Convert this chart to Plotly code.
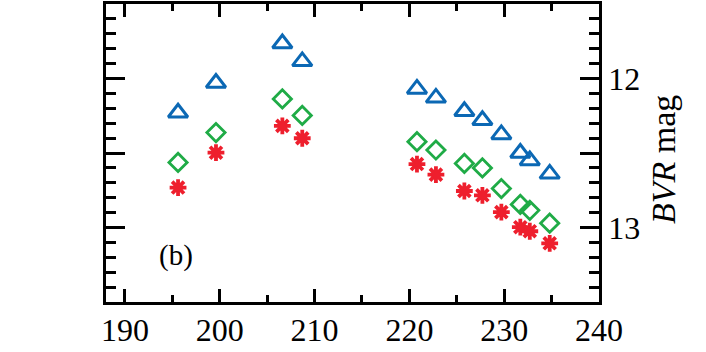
import plotly.graph_objects as go

# Data
days = [195.6, 199.6, 206.6, 208.7, 220.8, 222.8, 225.8, 227.7, 229.7, 231.7, 232.7, 234.8]
mag_b = [12.23, 12.03, 11.765, 11.885, 12.07, 12.13, 12.22, 12.28, 12.375, 12.50, 12.55, 12.64]
mag_v = [12.563, 12.363, 12.137, 12.248, 12.424, 12.48, 12.57, 12.60, 12.739, 12.845, 12.885, 12.971]
mag_r = [12.732, 12.498, 12.318, 12.401, 12.574, 12.645, 12.755, 12.784, 12.897, 12.998, 13.025, 13.106]

x_range = [188, 240]
x_ticks = [190, 200, 210, 220, 230, 240]
y_range = [13.5, 11.5]
y_tickvals = [11.5, 12.0, 12.5, 13.0, 13.5]
y_ticktext = ["", "12", "", "13", ""]

FONT = "Liberation Serif"
fig = go.Figure()
fig.add_trace(go.Scatter(x=days, y=mag_b, mode="markers",
                         marker=dict(symbol="triangle-up-open", size=17, color="#0b68b4",
                                     line=dict(width=3, color="#0b68b4"))))
fig.add_trace(go.Scatter(x=days, y=mag_v, mode="markers",
                         marker=dict(symbol="diamond-open", size=14, color="#1fab46",
                                     line=dict(width=2.8, color="#1fab46"))))
fig.add_trace(go.Scatter(x=days, y=mag_r, mode="markers",
                         marker=dict(symbol="asterisk-open", size=14, color="#ee1f2d",
                                     line=dict(width=3.8, color="#ee1f2d"))))

fig.update_layout(
    width=706, height=352,
    margin=dict(l=106, r=107, t=4, b=50),
    paper_bgcolor="white", plot_bgcolor="white",
    showlegend=False,
    font=dict(family=FONT, size=32, color="black"),
    xaxis=dict(range=x_range, tickvals=x_ticks, ticks="inside", ticklen=13, tickwidth=2.5,
               tickcolor="black", showline=True, linewidth=2.5, linecolor="black",
               mirror="allticks", showgrid=False, zeroline=False, automargin=False,
               tickfont=dict(family=FONT, size=32), ticklabelstandoff=-2,
               minor=dict(dtick=5, ticks="inside", ticklen=7, tickwidth=2.5, tickcolor="black",
                          showgrid=False)),
    yaxis=dict(range=y_range, tickvals=y_tickvals, ticktext=y_ticktext, side="right",
               ticks="inside", ticklen=19, tickwidth=2.5, tickcolor="black",
               showline=True, linewidth=2.5, linecolor="black", mirror="allticks",
               showgrid=False, zeroline=False, automargin=False,
               tickfont=dict(family=FONT, size=32),
               minor=dict(dtick=0.1, ticks="inside", ticklen=10, tickwidth=2.5,
                          tickcolor="black", showgrid=False)),
)

fig.add_annotation(text="<i>BVR</i> mag", xref="paper", yref="paper",
                   x=(663 - 106) / 493, y=(302 - 160) / 298, textangle=-90,
                   showarrow=False, font=dict(family=FONT, size=34),
                   xanchor="center", yanchor="middle")
fig.add_annotation(text="(b)", xref="paper", yref="paper",
                   x=(176 - 106) / 493, y=(302 - 255) / 298,
                   showarrow=False, font=dict(family=FONT, size=29),
                   xanchor="center", yanchor="middle")

fig.write_html("out.html", config={"displayModeBar": False},
               post_script="document.body.style.margin='0';")
